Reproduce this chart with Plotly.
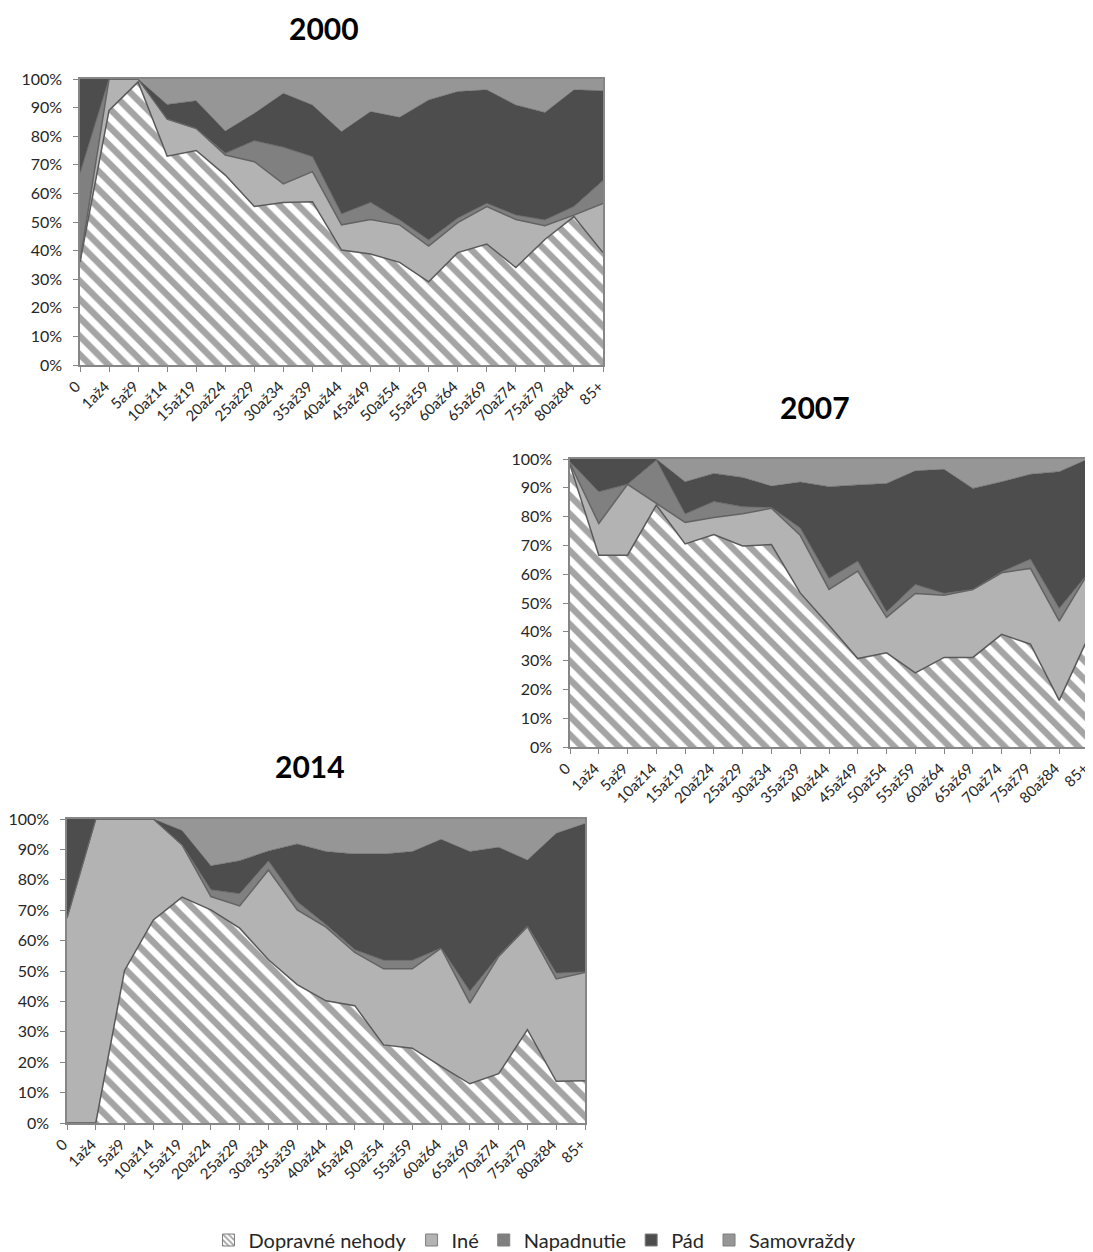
import plotly.graph_objects as go

categories = ["0", "1až4", "5až9", "10až14", "15až19", "20až24", "25až29", "30až34", "35až39",
              "40až44", "45až49", "50až54", "55až59", "60až64", "65až69", "70až74", "75až79",
              "80až84", "85+"]
series_names = ["Dopravné nehody", "Iné", "Napadnutie", "Pád", "Samovraždy"]
years = ["2000", "2007", "2014"]
y_ticks = [0, 10, 20, 30, 40, 50, 60, 70, 80, 90, 100]
y_tick_labels = ["0%", "10%", "20%", "30%", "40%", "50%", "60%", "70%", "80%", "90%", "100%"]

dop_2000 = [36, 89, 99, 73, 75, 66.4, 55.4, 56.8, 57.1, 40.2, 38.8, 35.9, 29.1, 39.3, 42.3, 34.1, 43.9, 51.9, 39.3]
ine_2000 = [0, 11, 1, 13, 7.7, 7.0, 15.7, 6.5, 10.5, 8.8, 12.1, 13.1, 12.5, 10.5, 13.1, 16.8, 4.8, 0.5, 17.2]
nap_2000 = [31, 0, 0, 0, 0, 0.6, 7.3, 12.8, 5.2, 3.8, 5.9, 1.7, 2.1, 1.5, 1.1, 1.5, 2.0, 3.0, 8.0]
pad_2000 = [33, 0, 0, 5.1, 9.7, 7.8, 9.6, 18.9, 18.1, 28.8, 31.8, 35.9, 49.0, 44.3, 39.7, 38.5, 37.6, 40.8, 31.4]
sam_2000 = [0, 0, 0, 8.9, 7.6, 18.2, 12.0, 5.0, 9.1, 18.4, 11.4, 13.4, 7.3, 4.4, 3.8, 9.1, 11.7, 3.8, 4.1]

dop_2007 = [98, 66.6, 66.6, 84.0, 70.5, 73.8, 69.8, 70.3, 53.5, 42.3, 30.7, 32.7, 25.7, 31.1, 31.1, 39.1, 35.7, 16.2, 37.9]
ine_2007 = [0.5, 11.0, 24.6, 0.6, 7.5, 5.9, 11.2, 12.6, 20.0, 12.4, 30.4, 12.3, 27.6, 21.6, 23.6, 21.4, 26.3, 27.5, 22.4]
nap_2007 = [0.5, 11.0, 0, 15.0, 2.9, 5.5, 2.4, 0.2, 2.5, 3.8, 3.4, 1.9, 3.1, 0.6, 0, 0.3, 3.2, 4.4, 0]
pad_2007 = [1.0, 11.4, 8.8, 0.4, 11.2, 9.8, 10.2, 7.5, 16.0, 31.9, 26.5, 44.6, 39.5, 43.1, 35.1, 31.3, 29.5, 47.5, 39.7]
sam_2007 = [0, 0, 0, 0, 7.9, 5.0, 6.4, 9.4, 8.0, 9.6, 9.0, 8.5, 4.1, 3.6, 10.2, 7.9, 5.3, 4.4, 0]

dop_2014 = [0, 0, 50.2, 66.8, 74.3, 70.1, 64.1, 53.7, 45.5, 40.2, 38.6, 25.7, 24.6, 18.6, 12.9, 16.2, 30.7, 13.7, 13.9]
ine_2014 = [67.4, 100, 49.8, 33.2, 17.2, 4.4, 7.3, 29.5, 24.6, 24.2, 17.5, 25.0, 26.1, 38.9, 26.5, 38.6, 33.9, 33.7, 35.6]
nap_2014 = [0, 0, 0, 0, 0, 2.2, 4.0, 3.0, 2.7, 0.8, 0.9, 2.8, 2.8, 0, 3.9, 0.2, 0.2, 1.9, 0.2]
pad_2014 = [32.6, 0, 0, 0, 4.7, 7.9, 10.9, 3.3, 19.0, 24.1, 31.5, 35.0, 35.8, 35.8, 46.0, 35.7, 21.7, 46.0, 48.8]
sam_2014 = [0, 0, 0, 0, 3.8, 15.4, 13.7, 10.5, 8.2, 10.7, 11.5, 11.5, 10.7, 6.7, 10.7, 9.3, 13.5, 4.7, 1.5]

data = {
    "2000": [dop_2000, ine_2000, nap_2000, pad_2000, sam_2000],
    "2007": [dop_2007, ine_2007, nap_2007, pad_2007, sam_2007],
    "2014": [dop_2014, ine_2014, nap_2014, pad_2014, sam_2014],
}

PAGE_W, PAGE_H = 1093, 1252
OFF = 8  # default body margin of the html page
W, H = PAGE_W - OFF, PAGE_H - OFF
# plot areas in page pixels: (left, right, top, bottom)
areas = {"2000": (80, 603, 79, 365), "2007": (570, 1088, 459, 747), "2014": (67, 585, 819, 1123)}
titles_px = {"2000": (324, 28), "2007": (815, 407), "2014": (310, 766)}
legend_px = (535, 1240)


def px_x(x):
    return (x - OFF) / W


def px_y(y):
    return 1 - (y - OFF) / H


fills = ["white", "#b3b3b3", "#808080", "#4d4d4d", "#969696"]
line_cols = ["#595959", "#636363", "#6a6a6a", "#4d4d4d", "#969696"]
line_w = [1.5, 1.5, 1.0, 0.5, 0]
FONT = "Lato"
hatch = dict(shape="\\", fgcolor="#4a4a4a", bgcolor="white", size=13, solidity=0.5)

fig = go.Figure()
for k, yr in enumerate(years):
    ax = "" if k == 0 else str(k + 1)
    for i, name in enumerate(series_names):
        kw = dict(
            x=categories, y=data[yr][i], name=name, mode="lines",
            stackgroup="s" + yr, xaxis="x" + ax, yaxis="y" + ax,
            line=dict(color=line_cols[i], width=line_w[i]),
            fillcolor=fills[i], legendgroup=name, showlegend=False,
            hoverinfo="skip",
        )
        if i == 0:
            kw["fillpattern"] = dict(fillmode="overlay", **hatch)
        fig.add_trace(go.Scatter(**kw))

# legend swatches (square markers)
for i, name in enumerate(series_names):
    mk = dict(color=fills[i], line=dict(color="#7f7f7f", width=1))
    if i == 0:
        mk["pattern"] = dict(shape="\\", fgcolor="#404040", bgcolor="white", size=5, solidity=0.45)
    fig.add_trace(go.Bar(x=[None], y=[None], name=name, marker=mk, legendgroup=name,
                         showlegend=True, hoverinfo="skip", xaxis="x", yaxis="y"))

layout = dict(
    width=W, height=H, margin=dict(l=0, r=0, t=0, b=0, autoexpand=False),
    paper_bgcolor="white", plot_bgcolor="white",
    font=dict(family=FONT, color="#262626"),
    legend=dict(orientation="h", x=px_x(legend_px[0]), xanchor="center",
                y=px_y(legend_px[1]), yanchor="middle",
                traceorder="normal", font=dict(size=20, family=FONT, color="#262626"),
                itemwidth=30, tracegroupgap=0),
    annotations=[],
)
for k, yr in enumerate(years):
    l, r, t, b = areas[yr]
    ax = "" if k == 0 else str(k + 1)
    layout["xaxis" + ax] = dict(
        domain=[px_x(l), px_x(r)], anchor="y" + ax, type="category", range=[0, 18],
        categoryorder="array", categoryarray=categories, automargin=False,
        showline=True, linecolor="#868686", linewidth=1.5, mirror=True,
        ticks="outside", ticklen=5, tickcolor="#868686", tickangle=-45,
        ticklabelshift=-4,
        tickfont=dict(size=15, family=FONT, color="#262626"), showgrid=False, zeroline=False,
        fixedrange=True,
    )
    layout["yaxis" + ax] = dict(
        domain=[px_y(b), px_y(t)], anchor="x" + ax, range=[0, 100], automargin=False,
        tickmode="array", tickvals=y_ticks, ticktext=y_tick_labels,
        showline=True, linecolor="#868686", linewidth=1.5, mirror=True,
        ticks="outside", ticklen=5, tickcolor="#868686", ticklabelstandoff=8,
        tickfont=dict(size=16, family=FONT, color="#262626"), showgrid=False, zeroline=False,
        fixedrange=True,
    )
    tx, ty = titles_px[yr]
    layout["annotations"].append(dict(
        text="<b>" + yr + "</b>", x=px_x(tx), y=px_y(ty), xref="paper", yref="paper",
        showarrow=False, xanchor="center", yanchor="middle",
        font=dict(size=30, family=FONT, color="#000000"),
    ))

fig.update_layout(**layout)
fig.write_html("out.html")
